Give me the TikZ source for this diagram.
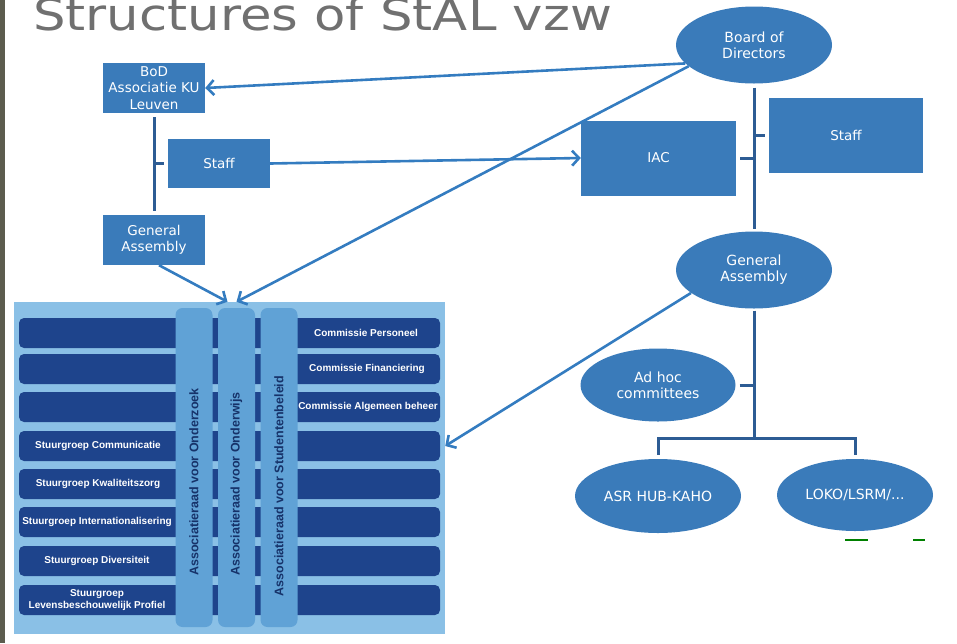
\documentclass[tikz,border=0pt]{standalone}
\usepackage{fontspec}
\setmainfont{DejaVu Sans}
\newfontfamily\arialfont{Liberation Sans}
\usetikzlibrary{shapes,arrows.meta}
\definecolor{stal_blue}{RGB}{58, 123, 186}
\definecolor{line_blue}{RGB}{52, 124, 192}
\definecolor{tree_blue}{RGB}{45, 92, 148}
\definecolor{panel_blue}{RGB}{138, 192, 230}
\definecolor{col_blue}{RGB}{96, 162, 214}
\definecolor{row_navy}{RGB}{30, 68, 140}
\definecolor{col_text}{RGB}{22, 50, 105}
\definecolor{title_gray}{RGB}{112, 112, 112}
\definecolor{strip_gray}{RGB}{92, 92, 78}
\tikzstyle{bx}=[rectangle,fill=stal_blue,text=white,inner sep=1pt,align=center,
  font=\fontsize{13.5}{16.5}\selectfont]
\tikzstyle{el}=[ellipse,fill=stal_blue,text=white,inner sep=0pt,align=center,
  font=\fontsize{14}{16}\selectfont]
\tikzstyle{row}=[rectangle,rounded corners=5pt,fill=row_navy,inner sep=0pt,
  minimum width=421pt,minimum height=30pt]
\tikzstyle{col}=[rectangle,rounded corners=7pt,fill=col_blue,inner sep=0pt,
  minimum width=37pt,minimum height=319pt]
\tikzstyle{rowtxt}=[text=white,align=center,inner sep=0pt,
  font=\arialfont\bfseries\fontsize{10}{12}\selectfont]
\tikzstyle{coltxt}=[rotate=90,text=col_text,inner sep=0pt,
  font=\arialfont\bfseries\fontsize{12.5}{14}\selectfont]
\tikzstyle{conn}=[draw=line_blue,line width=2.6pt,
  -{Straight Barb[length=7pt,width=15pt,line width=2.6pt]}]
\tikzstyle{tree}=[draw=tree_blue,line width=3pt]

\begin{document}
\begin{tikzpicture}[x=1pt,y=-1pt]
    \useasboundingbox (0,0) rectangle (957,643);
    \clip (0,0) rectangle (957,643);
    \fill [strip_gray] (0,0) rectangle (5,643);
    \node [anchor=base west,text=title_gray,inner sep=0pt,
      font=\fontsize{44}{50}\selectfont] (title) at (33,30) {\scalebox{1.165}[1]{Structures of StAL vzw}};

    % left side
    \node [style=bx,minimum width=102pt,minimum height=50pt] (bodku) at (154,88) {BoD\\Associatie KU\\Leuven};
    \node [style=bx,minimum width=102pt,minimum height=49pt] (staffl) at (219,163.5) {Staff};
    \node [style=bx,minimum width=102pt,minimum height=50pt] (gal) at (154,240) {General\\Assembly};

    % right side
    \node [style=el,minimum width=156pt,minimum height=77pt] (board) at (754,45) {Board of\\Directors};
    \node [style=bx,minimum width=155pt,minimum height=75pt] (iac) at (658.5,158) {IAC};
    \node [style=bx,minimum width=154pt,minimum height=75pt] (staffr) at (846,135.5) {Staff};
    \node [style=el,minimum width=156pt,minimum height=77pt] (gar) at (754,270) {General\\Assembly};
    \node [style=el,minimum width=155pt,minimum height=73pt] (adhoc) at (658,385) {Ad hoc\\committees};
    \node [style=el,minimum width=166pt,minimum height=74pt] (asr) at (658,496) {ASR HUB-KAHO};
    \node [style=el,minimum width=156pt,minimum height=72pt] (loko) at (855,495) {LOKO/LSRM/...};
    \coordinate (bar) at (754,438);

    % panel
    \node [fill=panel_blue,inner sep=0pt,minimum width=431pt,minimum height=332pt] (panel) at (229.5,468) {};
    \node [style=row] (rowa) at (229.5,333) {};
    \node [style=row] (rowb) at (229.5,369) {};
    \node [style=row] (rowc) at (229.5,407) {};
    \node [style=row] (rowd) at (229.5,446) {};
    \node [style=row] (rowe) at (229.5,484) {};
    \node [style=row] (rowf) at (229.5,522) {};
    \node [style=row] (rowg) at (229.5,561) {};
    \node [style=row] (rowh) at (229.5,600) {};
    \node [style=col] (cola) at (194,467.5) {};
    \node [style=col] (colb) at (236.5,467.5) {};
    \node [style=col] (colc) at (279,467.5) {};
    \node [style=coltxt] (onderzoek) at (194,482) {Associatieraad voor Onderzoek};
    \node [style=coltxt] (onderwijs) at (236.5,484) {Associatieraad voor Onderwijs};
    \node [style=coltxt] (studenten) at (279,486) {Associatieraad voor Studentenbeleid};
    \node [style=rowtxt] (personeel) at (366,333) {Commissie Personeel};
    \node [style=rowtxt] (financiering) at (367,369) {Commissie Financiering};
    \node [style=rowtxt] (beheer) at (368,407) {Commissie Algemeen beheer};
    \node [style=rowtxt] (communicatie) at (98,446) {Stuurgroep Communicatie};
    \node [style=rowtxt] (kwaliteit) at (98,484) {Stuurgroep Kwaliteitszorg};
    \node [style=rowtxt] (internat) at (97,522) {Stuurgroep Internationalisering};
    \node [style=rowtxt] (diversiteit) at (97,561) {Stuurgroep Diversiteit};
    \node [style=rowtxt] (profiel) at (97,600) {Stuurgroep\\Levensbeschouwelijk Profiel};

    % tree lines
    \draw [style=tree] ([yshift=-4pt]bodku.south) to ([yshift=4pt]gal.north);
    \draw [style=tree] ([xshift=-4pt]staffl.west) to (staffl.west -| bodku.south);
    \draw [style=tree] ([yshift=-4pt]board.south) to ([yshift=2.5pt]gar.north);
    \draw [style=tree] ([xshift=-4pt]staffr.west) to (staffr.west -| board.south);
    \draw [style=tree] ([xshift=4pt]iac.east) to (iac.east -| board.south);
    \draw [style=tree] ([yshift=-2pt]gar.south) to (bar);
    \draw [style=tree] ([xshift=4pt]adhoc.east) to (adhoc.east -| bar);
    \draw [style=tree] ([yshift=4pt]asr.north) |- (bar) -| ([yshift=4pt]loko.north);

    % arrows
    \draw [style=conn] (board.195) to (bodku.east);
    \draw [style=conn] (board.198) to ([xshift=7pt]panel.north);
    \draw [style=conn] ([xshift=5pt]gal.south) to ([xshift=-2pt]panel.north);
    \draw [style=conn] (staffl.east) to (iac.west);
    \draw [style=conn] (gar.200) to (panel.east |- rowd);

    \draw [green!50!black,line width=1.5pt] (845,540) to (868,540);
    \draw [green!50!black,line width=1.5pt] (913,540) to (925,540);
  \end{tikzpicture}
\end{document}
